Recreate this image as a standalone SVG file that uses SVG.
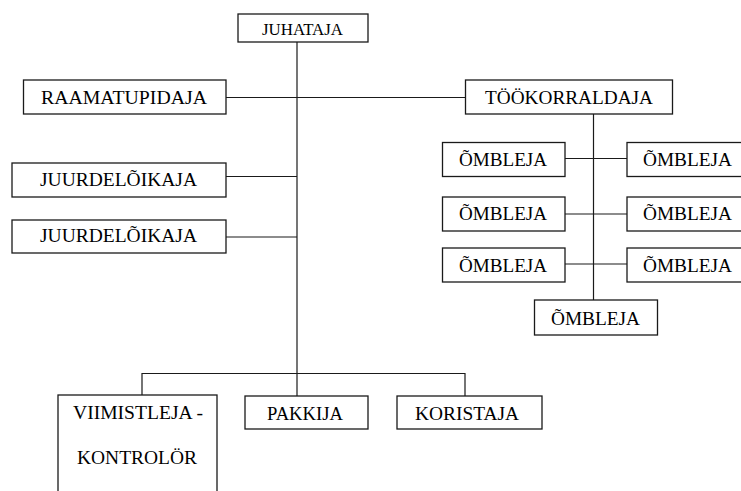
<svg xmlns="http://www.w3.org/2000/svg" width="741" height="491" viewBox="0 0 741 491">
<style>
.box{fill:#fff;stroke:#1a1a1a;stroke-width:1.3}
.ln{fill:none;stroke:#1a1a1a;stroke-width:1.2}
text{font-family:"Liberation Serif","Times New Roman",serif;font-size:18.5px;fill:#000}
.sm{font-size:16.5px}
</style>
<rect width="741" height="491" fill="#fff"/>
<g id="connectors">
<path class="ln" d="M297 42V396"/>
<path class="ln" d="M226 97.5H466"/>
<path class="ln" d="M226 176.5H297M226 237H297"/>
<path class="ln" d="M593.5 114V300"/>
<path class="ln" d="M565 158.5H627M565 214H627M565 264H627"/>
<path class="ln" d="M142 395V373.5H465V396"/>
</g>
<g id="juhataja"><rect class="box" x="238" y="14" width="130" height="28"/><text class="sm" x="262" y="35" textLength="81" lengthAdjust="spacingAndGlyphs">JUHATAJA</text></g>
<g id="raamatupidaja"><rect class="box" x="23.5" y="80" width="202.5" height="34"/><text x="41" y="104" textLength="166" lengthAdjust="spacingAndGlyphs">RAAMATUPIDAJA</text></g>
<g id="tookorraldaja"><rect class="box" x="465.5" y="80" width="207" height="34"/><text x="485" y="104" textLength="168" lengthAdjust="spacingAndGlyphs">TÖÖKORRALDAJA</text></g>
<g id="juurdeloikaja1"><rect class="box" x="12" y="163" width="214" height="34"/><text x="40" y="186" textLength="157" lengthAdjust="spacingAndGlyphs">JUURDELÕIKAJA</text></g>
<g id="juurdeloikaja2"><rect class="box" x="12" y="220" width="214" height="33"/><text x="40" y="242" textLength="157" lengthAdjust="spacingAndGlyphs">JUURDELÕIKAJA</text></g>
<g id="omb_l1"><rect class="box" x="442.5" y="142.5" width="122.5" height="34"/><text x="459" y="166" textLength="88" lengthAdjust="spacingAndGlyphs">ÕMBLEJA</text></g>
<g id="omb_r1"><rect class="box" x="627" y="142.5" width="130" height="34"/><text x="643" y="166" textLength="89" lengthAdjust="spacingAndGlyphs">ÕMBLEJA</text></g>
<g id="omb_l2"><rect class="box" x="442.5" y="197" width="122.5" height="34"/><text x="459" y="220" textLength="88" lengthAdjust="spacingAndGlyphs">ÕMBLEJA</text></g>
<g id="omb_r2"><rect class="box" x="627" y="197" width="130" height="34"/><text x="643" y="220" textLength="89" lengthAdjust="spacingAndGlyphs">ÕMBLEJA</text></g>
<g id="omb_l3"><rect class="box" x="442.5" y="248" width="122.5" height="34"/><text x="459" y="272" textLength="88" lengthAdjust="spacingAndGlyphs">ÕMBLEJA</text></g>
<g id="omb_r3"><rect class="box" x="627" y="248" width="130" height="34"/><text x="643" y="272" textLength="89" lengthAdjust="spacingAndGlyphs">ÕMBLEJA</text></g>
<g id="omb_bottom"><rect class="box" x="534.5" y="300" width="123" height="35"/><text x="551" y="325" textLength="89" lengthAdjust="spacingAndGlyphs">ÕMBLEJA</text></g>
<g id="viimistleja"><rect class="box" x="58" y="395" width="159" height="110"/><text x="73" y="419" textLength="130" lengthAdjust="spacingAndGlyphs">VIIMISTLEJA -</text><text x="77" y="464" textLength="120" lengthAdjust="spacingAndGlyphs">KONTROLÖR</text></g>
<g id="pakkija"><rect class="box" x="245" y="396" width="123" height="33"/><text x="267" y="420" textLength="76" lengthAdjust="spacingAndGlyphs">PAKKIJA</text></g>
<g id="koristaja"><rect class="box" x="397" y="396" width="145" height="33"/><text x="415" y="420" textLength="104" lengthAdjust="spacingAndGlyphs">KORISTAJA</text></g>
</svg>
